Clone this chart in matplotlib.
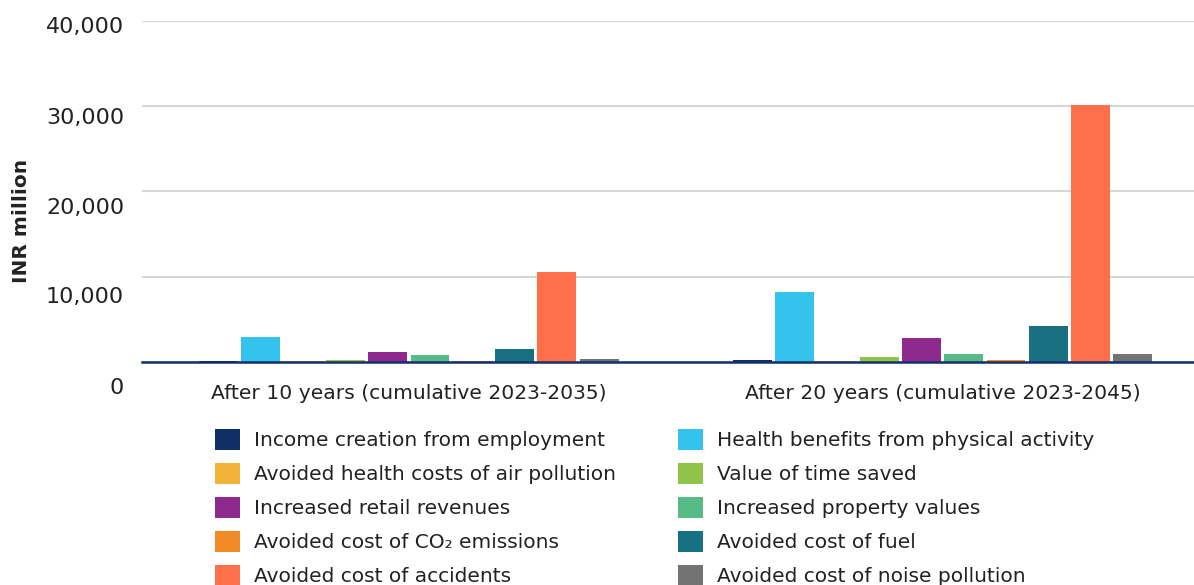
import matplotlib
matplotlib.use("Agg")
import matplotlib.pyplot as plt
import numpy as np
from matplotlib.patches import Patch

plt.rcParams.update({
    "font.family": ["DejaVu Sans"],
    "font.size": 14,
    "text.color": "#222222",
})

groups = ["After 10 years (cumulative 2023-2035)", "After 20 years (cumulative 2023-2045)"]
series = [
    "Income creation from employment",
    "Health benefits from physical activity",
    "Avoided health costs of air pollution",
    "Value of time saved",
    "Increased retail revenues",
    "Increased property values",
    "Avoided cost of CO\u2082 emissions",
    "Avoided cost of fuel",
    "Avoided cost of accidents",
    "Avoided cost of noise pollution",
]
colors = ["#0f2f66", "#33c3ed", "#f3b33a", "#8fc34a", "#8e2a8d",
          "#57bb87", "#f28a25", "#187083", "#ff704a", "#737373"]

# INR million
after10 = [110, 2890, 60, 190, 1130, 780, 70, 1480, 10500, 310]
after20 = [190, 8160, 70, 550, 2770, 900, 190, 4180, 30100, 900]

yticks = [0, 10000, 20000, 30000, 40000]
# the original's tick labels drift below their gridlines
label_drop_px = [25.5, 20, 16.5, 11.5, 6.5]

fig = plt.figure(figsize=(11.94, 5.85), dpi=100)
ax = fig.add_axes([142 / 1194, 1 - 362 / 585, 1 - 142 / 1194, (362 - 20.7) / 585])

values = np.array([after10, after20])
x = np.arange(len(groups))
step = 0.0792
width = 0.073
for i, (name, col) in enumerate(zip(series, colors)):
    ax.bar(x + (i - 4.5) * step, values[:, i], width=width, color=col, zorder=2)

ax.set_xlim(-0.5, 1.471)
ax.set_ylim(0, 40000)
ax.set_yticks(yticks)
ax.set_yticklabels([])
ax.tick_params(axis="y", length=0)
ax.yaxis.grid(True, color="#d6d6d6", linewidth=1.5, zorder=0)
ax.set_axisbelow(True)
for sp in ax.spines.values():
    sp.set_visible(False)
ax.axhline(0, color="#14306b", linewidth=1.8, zorder=3, clip_on=False)

for v, drop in zip(yticks, label_drop_px):
    ax.annotate(f"{v:,}", xy=(0, v), xycoords=ax.get_yaxis_transform(),
                xytext=(-18, -drop), textcoords="offset pixels",
                ha="right", va="center", fontsize=16, color="#222222",
                annotation_clip=False)

ax.set_xticks(x)
ax.set_xticklabels(groups, fontsize=14.6, color="#222222")
ax.tick_params(axis="x", length=0, pad=15.5)

fig.text(22 / 1194, 1 - 221 / 585, "INR million", rotation=90, ha="center",
         va="center", fontsize=14.5, fontweight="bold", color="#222222")

handles = [Patch(facecolor=c, edgecolor="none", label=s) for s, c in zip(series, colors)]
leg_kw = dict(frameon=False, loc="upper left", borderpad=0, borderaxespad=0,
              handlelength=1.25, handleheight=1.25, handletextpad=0.7,
              labelspacing=0.62, fontsize=14.5, labelcolor="#222222")
leg1 = fig.legend(handles=handles[0::2], bbox_to_anchor=(215 / 1194, 1 - 429 / 585), **leg_kw)
leg2 = fig.legend(handles=handles[1::2], bbox_to_anchor=(678 / 1194, 1 - 429 / 585), **leg_kw)

fig.savefig("out.png", dpi=100)
